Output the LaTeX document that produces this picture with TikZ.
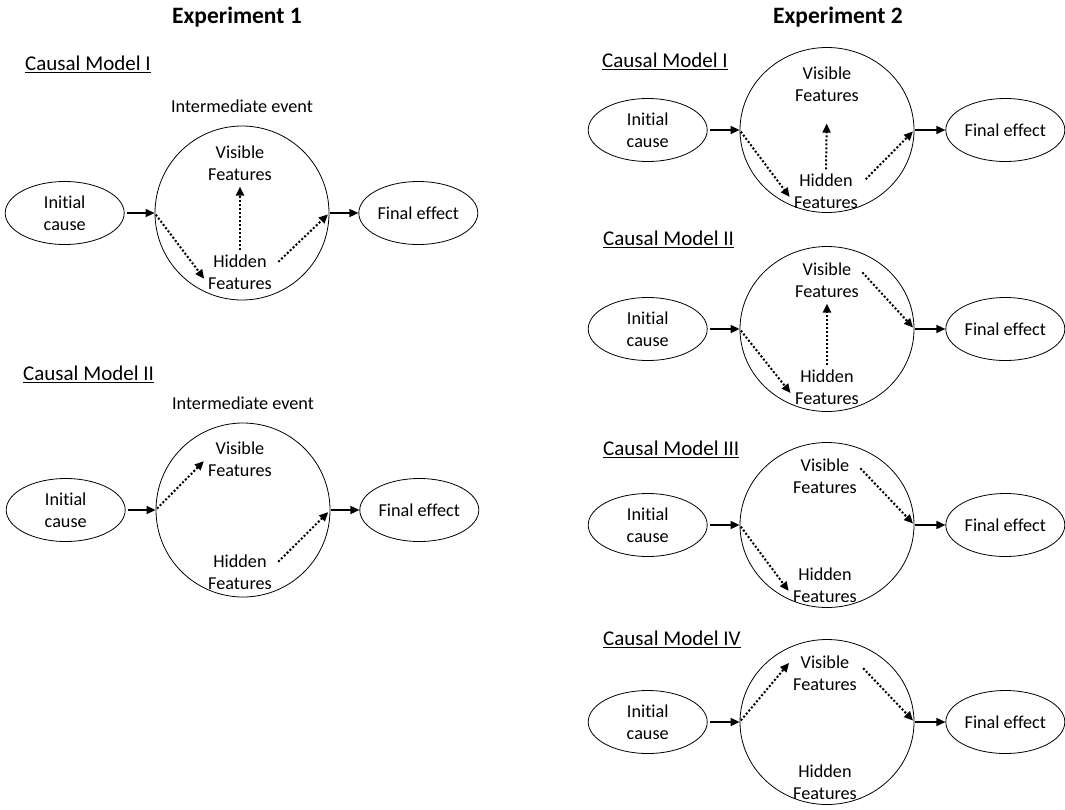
\documentclass[tikz,border=0pt]{standalone}
\usepackage{fontspec}
\setmainfont{Carlito}[Ligatures=NoCommon]
\usepackage{tikz}
\usetikzlibrary{
  shapes.geometric,
  arrows.meta,
  positioning,
  calc
}
\newcommand{\diagfont}{\fontsize{18.2}{22}\selectfont}
\tikzstyle{endnode} = [
  ellipse, draw, line width=0.8pt, minimum width=119pt,
  minimum height=63pt, inner sep=0pt, align=center, font=\diagfont
]
\tikzstyle{eventcircle} = [
  circle, draw, line width=0.8pt, minimum size=174pt, inner sep=0pt
]
\tikzstyle{eventoval} = [
  ellipse, draw, line width=0.8pt, minimum width=174pt,
  minimum height=165pt, inner sep=0pt
]
\tikzstyle{feattext} = [align=center, font=\diagfont, inner sep=2pt]
\tikzstyle{modellabel} = [anchor=west, font=\fontsize{21}{25}\selectfont, inner sep=0pt]
\tikzstyle{titletext} = [font=\fontsize{23.5}{28}\selectfont\bfseries]
\tikzstyle{solidarrow} = [-{Triangle[length=9pt,width=8pt]}, line width=1.6pt]
\tikzstyle{dotarrow} = [-{Triangle[length=9pt,width=8pt]}, line width=2pt,
  dash pattern=on 2pt off 2pt]

\begin{document}
\begin{tikzpicture}[x=1pt, y=-1pt]
\useasboundingbox (0,0) rectangle (1065,809);

% --- Titles ---
\node[titletext] (exp1) at (237,17) {Experiment 1};
\node[titletext] (exp2) at (838,17) {Experiment 2};

% --- Experiment 1: Causal Model I ---
\node[modellabel] (lab1) at (25,64) {\underline{Causal Model I}};
\node[eventcircle] (ev1) at (242,213) {};
\node[feattext, above=11pt of ev1] (ie1) {Intermediate event};
\node[endnode, left=30pt of ev1] (cause1) {Initial\\cause};
\node[endnode, right=29pt of ev1] (eff1) {Final effect};
\node[feattext] (vis1) at ($(ev1)+(-2,-50)$) {Visible\\Features};
\node[feattext] (hid1) at ($(ev1)+(-2,59)$) {Hidden\\Features};

% --- Experiment 1: Causal Model II ---
\node[modellabel] (lab2) at (23,374) {\underline{Causal Model II}};
\node[eventcircle] (ev2) at (243,510) {};
\node[feattext, above=11pt of ev2] (ie2) {Intermediate event};
\node[endnode, left=30pt of ev2] (cause2) {Initial\\cause};
\node[endnode, right=29pt of ev2] (eff2) {Final effect};
\node[feattext] (vis2) at ($(ev2)+(-3,-51)$) {Visible\\Features};
\node[feattext] (hid2) at ($(ev2)+(-3,62)$) {Hidden\\Features};

% --- Experiment 2: Causal Model I ---
\node[modellabel] (lab3) at (602,61) {\underline{Causal Model I}};
\node[eventoval] (ev3) at (827,130) {};
\node[endnode, left=32pt of ev3] (cause3) {Initial\\cause};
\node[endnode, right=31pt of ev3] (eff3) {Final effect};
\node[feattext] (vis3) at ($(ev3)+(0,-46)$) {Visible\\Features};
\node[feattext] (hid3) at ($(ev3)+(-1,61)$) {Hidden\\Features};

% --- Experiment 2: Causal Model II ---
\node[modellabel] (lab4) at (603,239) {\underline{Causal Model II}};
\node[eventoval] (ev4) at (827,329) {};
\node[endnode, left=32pt of ev4] (cause4) {Initial\\cause};
\node[endnode, right=31pt of ev4] (eff4) {Final effect};
\node[feattext] (vis4) at ($(ev4)+(0,-49)$) {Visible\\Features};
\node[feattext] (hid4) at ($(ev4)+(0,58)$) {Hidden\\Features};

% --- Experiment 2: Causal Model III ---
\node[modellabel] (lab5) at (603,449) {\underline{Causal Model III}};
\node[eventoval] (ev5) at (827,525) {};
\node[endnode, left=32pt of ev5] (cause5) {Initial\\cause};
\node[endnode, right=31pt of ev5] (eff5) {Final effect};
\node[feattext] (vis5) at ($(ev5)+(-2,-49)$) {Visible\\Features};
\node[feattext] (hid5) at ($(ev5)+(-2,60)$) {Hidden\\Features};

% --- Experiment 2: Causal Model IV ---
\node[modellabel] (lab6) at (603,639) {\underline{Causal Model IV}};
\node[eventoval] (ev6) at (827,722) {};
\node[endnode, left=32pt of ev6] (cause6) {Initial\\cause};
\node[endnode, right=31pt of ev6] (eff6) {Final effect};
\node[feattext] (vis6) at ($(ev6)+(-2,-49)$) {Visible\\Features};
\node[feattext] (hid6) at ($(ev6)+(-2,60)$) {Hidden\\Features};

% --- Solid arrows ---
\foreach \i in {1,...,6} {
  \draw[solidarrow, shorten <=2pt] (cause\i) -- (ev\i);
  \draw[solidarrow, shorten <=1pt] (ev\i) -- (eff\i);
}

% --- Dotted arrows ---
\draw[dotarrow, shorten <=2pt, shorten >=3pt] (ev1.west) -- (hid1.195);
\draw[dotarrow, shorten <=2pt, shorten >=4pt] (hid1.north) -- (vis1.south);
\draw[dotarrow, shorten <=6pt, shorten >=2pt] (hid1.10) -- (ev1.east);

\draw[dotarrow, shorten <=2pt, shorten >=3pt] (ev2.west) -- (vis2.west);
\draw[dotarrow, shorten <=6pt, shorten >=3pt] (hid2.10) -- (ev2.east);

\draw[dotarrow, shorten <=2pt, shorten >=4pt] (ev3.west) -- (hid3.195);
\draw[dotarrow, shorten <=2pt, shorten >=20pt] (hid3.north) -- (vis3.south);
\draw[dotarrow, shorten <=8pt, shorten >=2pt] (hid3.10) -- (ev3.east);

\draw[dotarrow, shorten <=2pt, shorten >=4pt] (ev4.west) -- (hid4.195);
\draw[dotarrow, shorten <=2pt, shorten >=4pt] (hid4.north) -- (vis4.south);
\draw[dotarrow, shorten <=2pt, shorten >=2pt] (vis4.15) -- (ev4.east);

\draw[dotarrow, shorten <=2pt, shorten >=4pt] (ev5.west) -- (hid5.195);
\draw[dotarrow, shorten <=2pt, shorten >=2pt] (vis5.15) -- (ev5.east);

\draw[dotarrow, shorten <=2pt, shorten >=3pt] (ev6.west) -- (vis6.160);
\draw[dotarrow, shorten <=6pt, shorten >=2pt] (vis6.15) -- (ev6.east);

\end{tikzpicture}
\end{document}
